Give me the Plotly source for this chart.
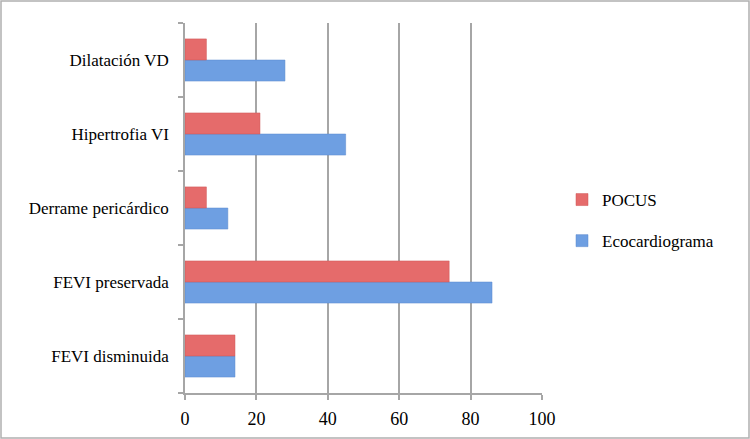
import plotly.graph_objects as go

categories = ["FEVI disminuida", "FEVI preservada", "Derrame pericárdico", "Hipertrofia VI", "Dilatación VD"]
pocus = [14, 74, 6, 21, 6]
eco = [14, 86, 12, 45, 28]
x_ticks = [0, 20, 40, 60, 80, 100]

W, H = 750, 439
L, R, T, B = 185, 208, 23, 46
pw = W - L - R
ph = H - T - B

fig = go.Figure()
fig.add_trace(go.Bar(y=categories, x=eco, orientation="h", name="Ecocardiograma",
                     marker=dict(color="#6E9FE2", line=dict(color="#5A88CC", width=0.5)),
                     legendrank=2, legendgroup="b"))
fig.add_trace(go.Bar(y=categories, x=pocus, orientation="h", name="POCUS",
                     marker=dict(color="#E56B6B", line=dict(color="#CF5656", width=0.5)),
                     legendrank=1, legendgroup="a"))

fam = "Liberation Serif, DejaVu Serif, serif"
font = dict(family=fam, size=17, color="#000000")

fig.update_layout(
    width=W, height=H,
    margin=dict(l=L, r=R, t=T, b=B, autoexpand=False),
    paper_bgcolor="white", plot_bgcolor="white",
    barmode="group", bargap=0.43, bargroupgap=0,
    font=font,
    showlegend=True,
    legend=dict(x=(562 - L) / pw, y=(H - B - 182) / ph, xanchor="left", yanchor="top",
                font=dict(family=fam, size=17, color="#000"),
                bgcolor="rgba(0,0,0,0)", itemwidth=30, tracegroupgap=16),
    xaxis=dict(range=[0, 100], tickvals=x_ticks, showgrid=True, gridcolor="#A6A6A6", gridwidth=1.5,
               zeroline=False, showline=True, linecolor="#A6A6A6", linewidth=1.5,
               ticks="outside", ticklen=5, tickcolor="#A6A6A6", tickwidth=1.5,
               tickfont=dict(family=fam, size=18, color="#000"), automargin=False,
               ticklabelstandoff=4),
    yaxis=dict(categoryorder="array", categoryarray=categories, showline=True,
               linecolor="#A6A6A6", linewidth=1.5, ticks="outside", ticklen=5,
               tickcolor="#A6A6A6", tickwidth=1.5, tickson="boundaries",
               showgrid=False, tickfont=font, ticklabelstandoff=11, automargin=False),
)

# outer border around the whole image
fig.add_shape(type="rect", xref="paper", yref="paper",
              x0=(1 - L) / pw, x1=(W - 1 - L) / pw,
              y0=-(B - 1) / ph, y1=1 + (T - 1) / ph,
              line=dict(color="#B0B0B0", width=1.5), fillcolor="rgba(0,0,0,0)", layer="below")

fig.write_html("out.html", config={"displayModeBar": False},
               post_script="document.body.style.margin='0';document.body.style.overflow='hidden';")
